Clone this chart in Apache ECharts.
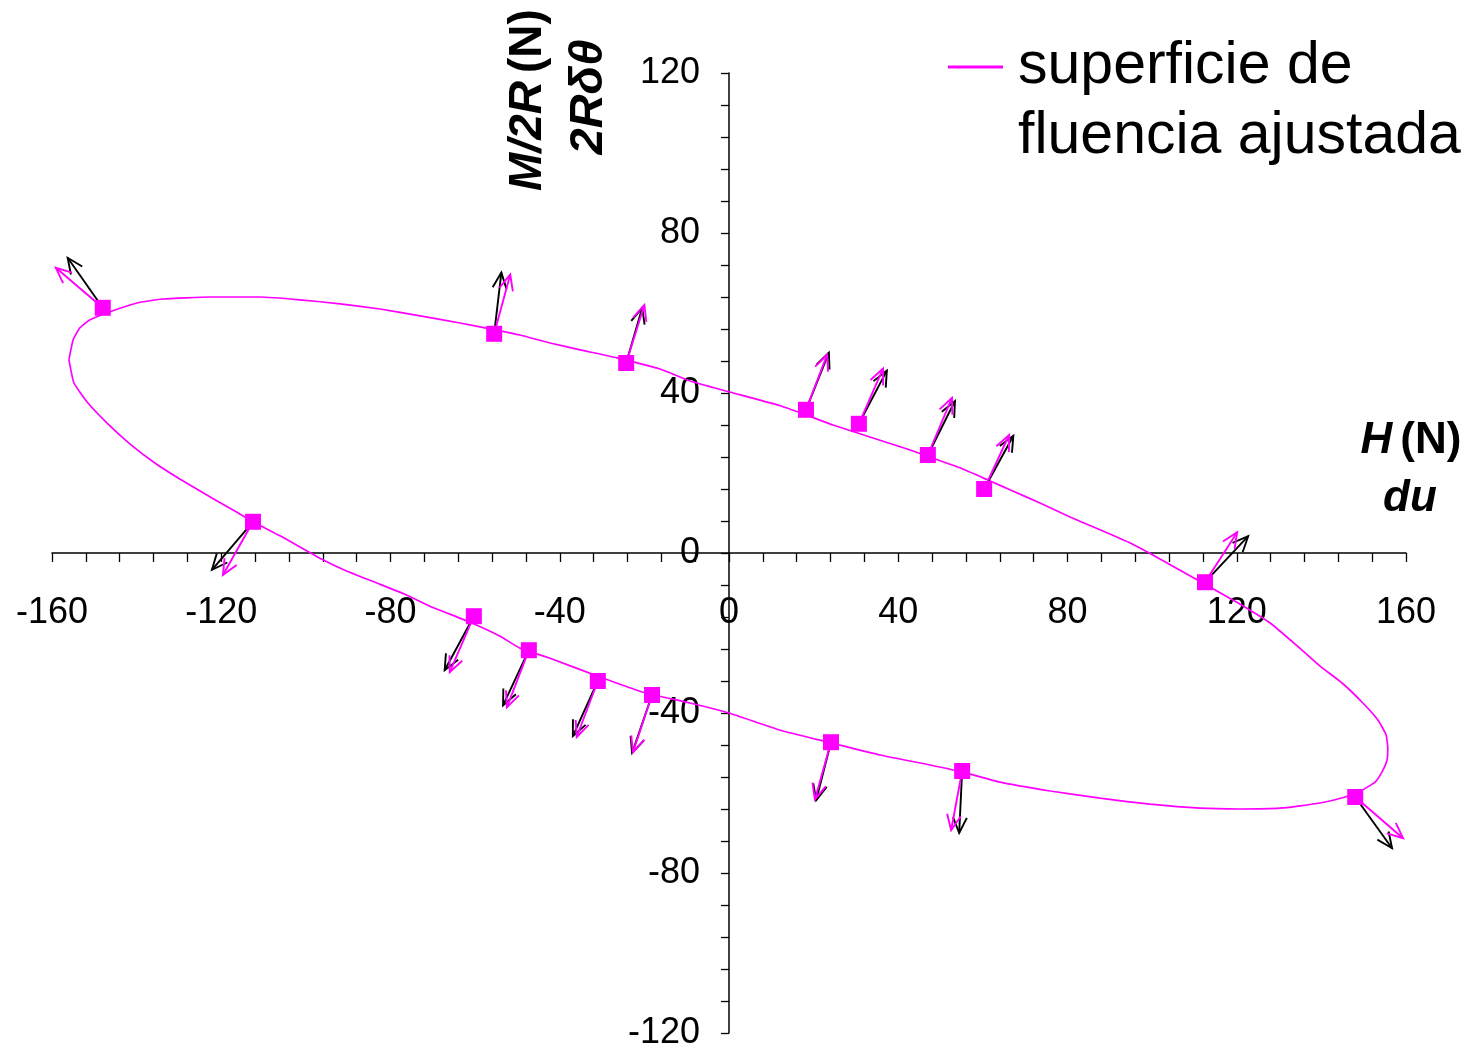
<!DOCTYPE html>
<html>
<head>
<meta charset="utf-8">
<script src="https://cdn.jsdelivr.net/npm/echarts@6/dist/echarts.min.js"></script>
<style>
html,body{margin:0;padding:0;background:#fff;}
#chart{width:1470px;height:1051px;}
</style>
</head>
<body>
<div id="chart"></div>
<script>
// fitted yield surface (H, M/2R)
const curveH = [-156.0,-154.8,-151.5,-146.8,-141.6,-135.7,-129.8,-122.0,-116.8,-112.5,-106.1,-101.4,-96.7,-90.8,-83.7,-76.6,-70.7,-61.2,-54.1,-49.4,-42.3,-30.5,-20.3,-9.2,0,12.1,24.3,35.7,47.5,55.3,64.0,75.9,87.7,99.5,111.3,120.8,130.2,139.7,145.6,149.6,152.7,154.3,155.5,155.7,155.3,153.4,149.8,144.9,139.7,134.9,127.9,120.8,112.5,106.6,100.7,94.8,87.7,80.6,73.5,66.4,61.7,54.6,47.5,42.1,33.3,24.6,18.2,12.1,0,-9.2,-16.3,-26.5,-35.2,-42.3,-49.4,-55.3,-63.6,-73.0,-82.5,-91.9,-101.4,-110.8,-122.7,-133.8,-139.9,-145.8,-151.0,-153.4,-155.0,-156.0];
const curveM = [48.3,42.5,37.5,32.3,27.3,22.5,18.5,13.6,10.5,7.8,4.3,1.5,-1.3,-4.3,-7.3,-10.3,-13.3,-17.3,-20.8,-23.8,-26.3,-31.0,-34.8,-37.5,-40.0,-44.3,-47.5,-50.5,-53.0,-54.8,-57.3,-59.5,-61.3,-62.8,-63.8,-64.0,-63.8,-62.5,-61.0,-59.3,-57.3,-54.8,-51.8,-48.8,-45.5,-41.8,-37.5,-32.5,-28.3,-23.8,-17.5,-12.8,-7.8,-4.3,-0.8,2.5,5.8,9.0,12.5,15.8,18.0,21.3,24.0,26.0,29.0,32.0,34.5,36.8,40.3,43.0,46.0,48.8,50.8,52.5,54.5,55.8,57.5,59.3,61.0,62.3,63.3,64.0,64.0,63.5,62.5,60.5,58.3,56.3,53.3,48.3];

// measured points
const pointH = [-148.0,-55.5,-24.3,18.2,30.7,47.0,60.3,112.5,148.0,55.1,24.1,-18.2,-31.0,-47.3,-60.3,-112.5];
const pointM = [61.3,54.8,47.5,35.8,32.3,24.5,16.0,-7.3,-61.0,-54.5,-47.3,-35.5,-32.0,-24.3,-15.8,7.8];

// black arrows (du, 2R dtheta)
const blackDu = [-8.3,1.7,3.8,5.4,6.6,6.4,6.9,10.2,8.7,-0.7,-3.5,-4.7,-5.9,-6.1,-6.9,-9.7];
const blackDt = [12.5,15.3,13.8,14.3,13.3,13.5,13.3,11.5,-12.8,-15.5,-14.5,-14.5,-13.8,-13.8,-13.5,-12.0];
// magenta arrows (normal to fitted surface)
const magDu = [-11.1,3.8,4.3,5.0,5.7,5.7,5.9,7.6,11.3,-2.6,-3.8,-4.5,-5.0,-5.2,-5.7,-7.1];
const magDt = [10.0,14.8,14.5,13.8,13.8,14.3,13.5,12.5,-10.3,-14.8,-14.3,-14.3,-14.0,-14.3,-14.0,-13.3];

const xTickLabels = [-160,-120,-80,-40,0,40,80,120,160];
const yTickLabels = [-120,-80,-40,0,40,80,120];

const MAG = '#FF00FF';
const FONT = 'Liberation Sans';

const curveData = curveH.map((h,i)=>[h,curveM[i]]);
const pointData = pointH.map((h,i)=>[h,pointM[i]]);
const blackData = pointH.map((h,i)=>[h,pointM[i],blackDu[i],blackDt[i]]);
const magData = pointH.map((h,i)=>[h,pointM[i],magDu[i],magDt[i]]);

function arrowRenderer(color, width){
  return function(params, api){
    const x = api.value(0), y = api.value(1), dx = api.value(2), dy = api.value(3);
    const p0 = api.coord([x,y]);
    const p1 = api.coord([x+dx,y+dy]);
    const a = Math.atan2(p1[1]-p0[1], p1[0]-p0[0]);
    const L = 17, phi = 0.42;
    const h1 = [p1[0]-L*Math.cos(a-phi), p1[1]-L*Math.sin(a-phi)];
    const h2 = [p1[0]-L*Math.cos(a+phi), p1[1]-L*Math.sin(a+phi)];
    return {
      type:'group',
      children:[
        {type:'polyline', shape:{points:[p0,p1]}, style:{stroke:color, lineWidth:width, fill:null}},
        {type:'polyline', shape:{points:[h1,p1,h2]}, style:{stroke:color, lineWidth:width, fill:null}}
      ]
    };
  };
}

const labelFmt = (list) => (v) => list.indexOf(Math.round(v)) >= 0 && Math.abs(v - Math.round(v)) < 1e-6 ? String(Math.round(v)) : '';

const GRID = {left:52, right:64, top:73, bottom:18};
const W = 1470, H = 1051;
const halfW = (W - GRID.left - GRID.right) / 2;
const halfH = (H - GRID.top - GRID.bottom) / 2;

const chart = echarts.init(document.getElementById('chart'), null, {renderer:'canvas'});
chart.setOption({
  backgroundColor:'#ffffff',
  animation:false,
  grid:Object.assign({containLabel:false, outerBoundsMode:'none'}, GRID),
  xAxis:{
    type:'value', min:-160, max:160, interval:8, position:'bottom', offset:-halfH,
    axisLine:{onZero:false, lineStyle:{color:'#000', width:1.5}},
    axisTick:{show:true, length:9, lineStyle:{color:'#000', width:1.3}},
    axisLabel:{formatter:labelFmt(xTickLabels), fontSize:36, fontFamily:FONT, color:'#000', margin:42, showMinLabel:true, showMaxLabel:true, hideOverlap:false},
    splitLine:{show:false}
  },
  yAxis:{
    type:'value', min:-120, max:120, interval:8, position:'left', offset:-halfW,
    axisLine:{onZero:false, lineStyle:{color:'#000', width:1.5}},
    axisTick:{show:true, length:8, lineStyle:{color:'#000', width:1.3}},
    axisLabel:{formatter:labelFmt(yTickLabels), fontSize:36, fontFamily:FONT, color:'#000', margin:29, showMinLabel:true, showMaxLabel:true, hideOverlap:false},
    splitLine:{show:false}
  },
  legend:{
    left:943, top:-43, orient:'vertical',
    icon:'rect', itemWidth:55, itemHeight:3,
    data:['superficie de\nfluencia ajustada'],
    formatter:(name)=>' \n' + name,
    textStyle:{fontSize:59, lineHeight:70, fontFamily:FONT, color:'#000', padding:[0,0,0,10]}
  },
  graphic:[
    {type:'text', x:528, y:100, rotation:Math.PI/2, style:{
      text:'{bi|M/2R}{b|(N)}', align:'center', verticalAlign:'middle',
      rich:{bi:{fontSize:46, fontWeight:'bold', fontStyle:'italic', fontFamily:FONT, fill:'#000'}, b:{fontSize:46, fontWeight:'bold', fontFamily:FONT, fill:'#000', padding:[0,0,0,8]}}
    }},
    {type:'text', x:589, y:97, rotation:Math.PI/2, style:{
      text:'2R\u03B4\u03B8', align:'center', verticalAlign:'middle',
      fontSize:47, fontWeight:'bold', fontStyle:'italic', fontFamily:FONT, fill:'#000'
    }},
    {type:'text', x:1411, y:441, style:{
      text:'{bi|H}{b|(N)}', align:'center', verticalAlign:'middle',
      rich:{bi:{fontSize:44, fontWeight:'bold', fontStyle:'italic', fontFamily:FONT, fill:'#000'}, b:{fontSize:44, fontWeight:'bold', fontFamily:FONT, fill:'#000', padding:[0,0,0,8]}}
    }},
    {type:'text', x:1410, y:499, style:{
      text:'du', align:'center', verticalAlign:'middle',
      fontSize:44, fontWeight:'bold', fontStyle:'italic', fontFamily:FONT, fill:'#000'
    }}
  ],
  series:[
    {
      name:'superficie de\nfluencia ajustada', type:'line', data:curveData,
      showSymbol:false, smooth:0.15, lineStyle:{color:MAG, width:1.7}, itemStyle:{color:MAG}, z:2
    },
    {
      name:'black arrows', type:'custom', data:blackData, renderItem:arrowRenderer('#000',1.9),
      encode:{x:0, y:1}, z:3
    },
    {
      name:'magenta arrows', type:'custom', data:magData, renderItem:arrowRenderer(MAG,1.9),
      encode:{x:0, y:1}, z:4
    },
    {
      name:'points', type:'scatter', data:pointData, symbol:'rect', symbolSize:16,
      itemStyle:{color:MAG, opacity:1}, z:5
    }
  ]
});
</script>
</body>
</html>
